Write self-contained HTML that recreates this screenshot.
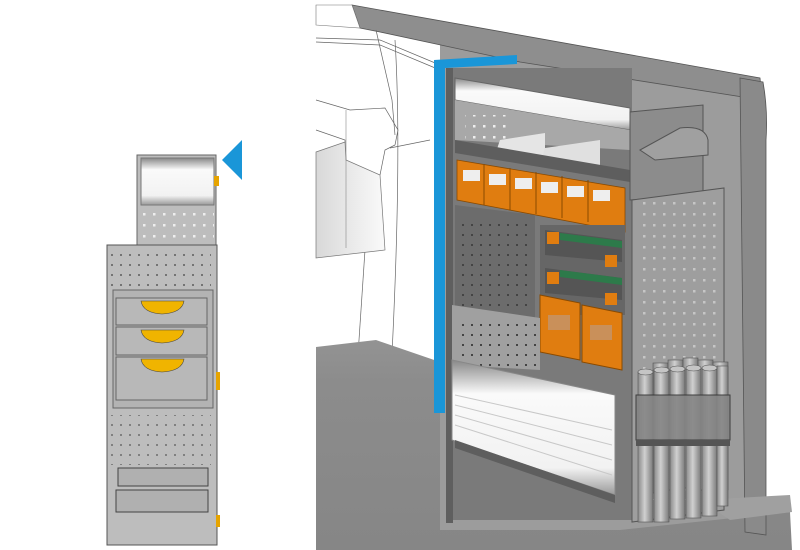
<!DOCTYPE html>
<html><head><meta charset="utf-8"><style>html,body{margin:0;padding:0;background:#fff}svg{display:block}</style></head>
<body>
<svg width="800" height="550" viewBox="0 0 800 550" xmlns="http://www.w3.org/2000/svg">
<defs>
<pattern id="dots" width="9" height="10" patternUnits="userSpaceOnUse"><rect x="3" y="4" width="2" height="2" fill="#444"/></pattern>
<pattern id="wdots" width="10" height="11" patternUnits="userSpaceOnUse"><rect x="3" y="4" width="2.5" height="2.5" fill="#eee"/></pattern>
<linearGradient id="roll" x1="0" y1="0" x2="0" y2="1"><stop offset="0" stop-color="#888"/><stop offset=".25" stop-color="#fafafa"/><stop offset=".8" stop-color="#f2f2f2"/><stop offset="1" stop-color="#999"/></linearGradient>
<linearGradient id="tube" x1="0" y1="0" x2="1" y2="0"><stop offset="0" stop-color="#8a8a8a"/><stop offset=".45" stop-color="#d0d0d0"/><stop offset="1" stop-color="#7a7a7a"/></linearGradient>
<linearGradient id="seat" x1="0" y1="0" x2="1" y2="0"><stop offset="0" stop-color="#d8d8d8"/><stop offset="1" stop-color="#fafafa"/></linearGradient>
<linearGradient id="floor" x1="0" y1="0" x2="0" y2="1"><stop offset="0" stop-color="#939393"/><stop offset=".2" stop-color="#8c8c8c"/><stop offset="1" stop-color="#868686"/></linearGradient>
</defs>

<!-- LEFT UNIT -->
<rect x="137" y="155" width="79" height="90" fill="#bdbdbd" stroke="#666" stroke-width="1"/>
<rect x="141" y="158" width="73" height="47" fill="url(#roll)" stroke="#777"/>
<rect x="141" y="205" width="73" height="38" fill="url(#wdots)"/>
<rect x="214" y="176" width="5" height="10" fill="#e6a400"/>
<rect x="107" y="245" width="110" height="300" fill="#bdbdbd" stroke="#555" stroke-width="1"/>
<rect x="111" y="250" width="100" height="40" fill="url(#dots)" opacity=".6"/>
<rect x="113" y="290" width="100" height="118" fill="#b3b3b3" stroke="#666"/>
<rect x="116" y="298" width="91" height="27" fill="#b8b8b8" stroke="#666"/>
<rect x="116" y="327" width="91" height="28" fill="#b8b8b8" stroke="#666"/>
<rect x="116" y="357" width="91" height="43" fill="#b8b8b8" stroke="#666"/>
<path d="M141 301 H184 Q182 313 162 314 Q143 313 141 301Z" fill="#f0b400" stroke="#444" stroke-width=".6"/>
<path d="M141 330 H184 Q182 342 162 343 Q143 342 141 330Z" fill="#f0b400" stroke="#444" stroke-width=".6"/>
<path d="M141 359 H184 Q182 371 162 372 Q143 371 141 359Z" fill="#f0b400" stroke="#444" stroke-width=".6"/>
<rect x="216" y="372" width="4" height="18" fill="#e6a400"/>
<rect x="111" y="415" width="100" height="50" fill="url(#dots)" opacity=".5"/>
<rect x="118" y="468" width="90" height="18" fill="#b0b0b0" stroke="#444"/>
<rect x="116" y="490" width="92" height="22" fill="#b0b0b0" stroke="#444"/>
<rect x="216" y="515" width="4" height="12" fill="#e6a400"/>
<polygon points="222,160 242,140 242,180" fill="#1a96d8"/>

<!-- VAN -->
<!-- back wall -->
<path d="M440 45 L760 95 L760 530 L440 530Z" fill="#9c9c9c"/>
<!-- roof band -->
<path d="M352 5 L760 78 L762 100 L520 62 L380 32 L360 28Z" fill="#8e8e8e" stroke="#555" stroke-width=".8"/>
<path d="M316 5 L352 5 L360 28 L316 25Z" fill="#fff" stroke="#777" stroke-width=".6"/>
<!-- seat lines -->
<g fill="none" stroke="#666" stroke-width=".7">
<path d="M316 38 L380 40 L440 65"/><path d="M316 42 L380 45 L440 70"/>
<path d="M376 30 L392 100 L395 135"/>
<path d="M316 100 L350 110 L385 108 L398 130 L395 145"/>
<path d="M316 130 L345 140 L346 160"/>
<path d="M395 145 L385 150 L380 175"/>
<path d="M390 148 L430 140"/>
<path d="M395 40 Q405 200 380 550"/><path d="M365 250 L345 550"/>
</g>
<path d="M316 152 L345 142 L346 160 L380 175 L385 250 L316 258Z" fill="url(#seat)" stroke="#777" stroke-width=".7"/>
<path d="M346 110 L346 248" stroke="#888" stroke-width=".6"/>
<!-- floor -->
<path d="M316 347 L376 340 L440 362 L440 530 L620 530 L790 512 L792 550 L316 550Z" fill="url(#floor)"/>
<path d="M316 380 L440 390" stroke="#999" stroke-width="0"/>
<!-- right pillar -->
<path d="M740 78 L763 82 Q768 110 766 140 L766 535 L745 532Z" fill="#8a8a8a" stroke="#555" stroke-width=".8"/>
<path d="M700 500 L790 495 L792 512 L730 520Z" fill="#a0a0a0"/>

<!-- SHELF UNIT -->
<rect x="447" y="68" width="185" height="452" fill="#7a7a7a"/>
<rect x="446" y="68" width="7" height="455" fill="#5f5f5f"/>
<path d="M455 78 L630 108 L630 130 L455 100Z" fill="url(#roll)" stroke="#666"/>
<path d="M455 100 L630 130 L630 150 L455 140Z" fill="#a8a8a8"/>
<rect x="465" y="115" width="45" height="28" fill="url(#wdots)"/>
<path d="M500 140 L545 133 L545 165 L495 155Z" fill="#e5e5e5"/>
<path d="M545 148 L600 140 L600 168 L540 165Z" fill="#e0e0e0"/>
<path d="M455 140 L630 170 L630 182 L455 153Z" fill="#5e5e5e"/>
<path d="M457 160 L625 188 L625 232 L457 200Z" fill="#e07d10" stroke="#8a4a00" stroke-width=".8"/>
<g fill="#eeeeee"><rect x="463" y="170" width="17" height="11"/><rect x="489" y="174" width="17" height="11"/><rect x="515" y="178" width="17" height="11"/><rect x="541" y="182" width="17" height="11"/><rect x="567" y="186" width="17" height="11"/><rect x="593" y="190" width="17" height="11"/></g>
<g stroke="#8a4a00" stroke-width="1"><line x1="484" y1="164" x2="484" y2="205"/><line x1="510" y1="168" x2="510" y2="210"/><line x1="536" y1="172" x2="536" y2="214"/><line x1="562" y1="176" x2="562" y2="218"/><line x1="588" y1="180" x2="588" y2="222"/></g>
<path d="M455 205 L535 215 L535 320 L455 315Z" fill="#6c6c6c"/>
<rect x="458" y="220" width="75" height="90" fill="url(#dots)"/>
<rect x="540" y="225" width="85" height="90" fill="#666"/>
<path d="M545 230 L622 240 L622 262 L545 255Z" fill="#555"/><path d="M560 233 L622 241 L622 248 L560 240Z" fill="#2d7a4a"/>
<rect x="547" y="232" width="12" height="12" fill="#e07d10"/><rect x="605" y="255" width="12" height="12" fill="#e07d10"/>
<path d="M545 268 L622 278 L622 300 L545 293Z" fill="#555"/><path d="M560 270 L622 278 L622 285 L560 277Z" fill="#2d7a4a"/>
<rect x="547" y="272" width="12" height="12" fill="#e07d10"/><rect x="605" y="293" width="12" height="12" fill="#e07d10"/>
<path d="M540 295 L580 303 L580 360 L540 352Z" fill="#e07d10" stroke="#8a4a00"/>
<path d="M582 305 L622 313 L622 370 L582 362Z" fill="#e07d10" stroke="#8a4a00"/>
<rect x="548" y="315" width="22" height="15" fill="#c9905a"/><rect x="590" y="325" width="22" height="15" fill="#c9905a"/>
<path d="M452 305 L540 318 L540 370 L452 365Z" fill="#a0a0a0"/>
<rect x="456" y="322" width="80" height="45" fill="url(#dots)"/>
<path d="M452 360 L615 395 L615 495 L452 440Z" fill="url(#roll)" stroke="#888"/>
<g stroke="#c8c8c8" stroke-width="1"><line x1="455" y1="395" x2="612" y2="430"/><line x1="455" y1="405" x2="612" y2="445"/><line x1="455" y1="415" x2="612" y2="460"/><line x1="455" y1="425" x2="612" y2="475"/></g>
<path d="M455 440 L615 495 L615 503 L455 448Z" fill="#5e5e5e"/>
<!-- right side panel -->
<path d="M630 112 L703 105 L703 195 L630 200Z" fill="#8c8c8c" stroke="#555"/>
<path d="M640 150 L680 128 Q705 125 708 140 L708 155 L655 160Z" fill="#a0a0a0" stroke="#555"/>
<path d="M632 200 L724 188 L724 510 L632 522Z" fill="#9e9e9e" stroke="#555"/>
<rect x="636" y="200" width="85" height="300" fill="url(#wdots)" opacity=".5"/>
<!-- tubes -->
<g fill="url(#tube)" stroke="#555" stroke-width=".6">
<rect x="653" y="363" width="15" height="130"/><rect x="668" y="360" width="15" height="130"/><rect x="683" y="358" width="15" height="130"/><rect x="698" y="360" width="15" height="130"/><rect x="713" y="362" width="15" height="128"/>
<rect x="638" y="372" width="15" height="150"/><rect x="654" y="370" width="15" height="152"/><rect x="670" y="369" width="15" height="150"/><rect x="686" y="368" width="15" height="150"/><rect x="702" y="368" width="15" height="148"/><rect x="717" y="366" width="11" height="140"/>
</g>
<g fill="#c5c5c5" stroke="#555" stroke-width=".6"><ellipse cx="645.5" cy="372" rx="7.5" ry="3"/><ellipse cx="661.5" cy="370" rx="7.5" ry="3"/><ellipse cx="677.5" cy="369" rx="7.5" ry="3"/><ellipse cx="693.5" cy="368" rx="7.5" ry="3"/><ellipse cx="709.5" cy="368" rx="7.5" ry="3"/></g>
<rect x="636" y="395" width="94" height="45" fill="#858585" stroke="#333" opacity=".9"/>
<rect x="636" y="440" width="94" height="6" fill="#555"/>

<!-- blue line -->
<path d="M434 60 L517 55 L517 64 L445 68 L445 413 L434 413Z" fill="#1a96d8"/>
</svg>
</body></html>
